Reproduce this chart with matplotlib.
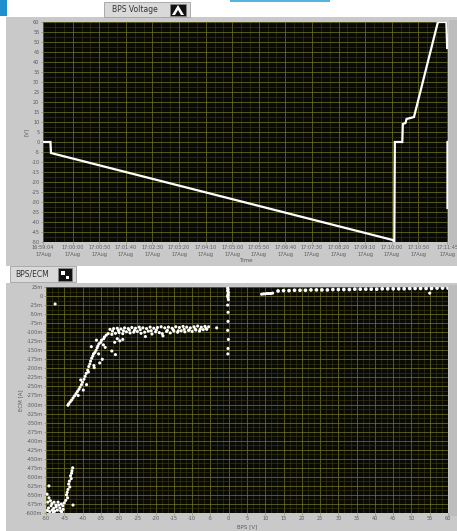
import numpy as np
import matplotlib
matplotlib.use("Agg")
import matplotlib.pyplot as plt
from matplotlib.patches import Rectangle, Polygon
from matplotlib.ticker import MultipleLocator, FixedLocator

W, H = 457, 531

# =========================
# BPS voltage vs time (seconds since 16:59:04)
# =========================
t_s = [0, 14, 15, 658, 660, 661, 662, 676, 677, 682, 684, 698, 743, 744, 759, 760.4, np.nan, 761, 761]
volt = [0, 0, -5.5, -49, -49.5, -49.5, 0, 0, 9, 9.5, 11.5, 12.5, 60, 60, 60, 47, np.nan, 0, -33]

time_tick_pos = [0, 56, 106, 156, 206, 256, 306, 356, 406, 456, 506, 556, 606, 656, 706, 761]
time_tick_lab = ["16:59:04", "17:00:00", "17:00:50", "17:01:40", "17:02:30", "17:03:20",
                 "17:04:10", "17:05:00", "17:05:50", "17:06:40", "17:07:30", "17:08:20",
                 "17:09:10", "17:10:00", "17:10:50", "17:11:45"]
volt_ticks = [60, 55, 50, 45, 40, 35, 30, 25, 20, 15, 10, 5, 0,
              -5, -10, -15, -20, -25, -30, -35, -40, -45, -50]

# =========================
# ECM current vs BPS voltage (V, mA)
# =========================
top_v = [13.5, 15, 16.5, 18, 19.5, 21, 22.5, 24, 25.5, 27, 28.5, 30, 31.5, 33, 34.5, 36,
         37.5, 39, 40.5, 42, 43.5, 45, 46.5, 48, 49.5, 51, 52.5, 54, 55.5, 57, 58.5, 60]
top_i = [14, 15, 15, 16, 16, 16, 17, 17, 17, 17, 18, 18, 18, 18, 19, 19,
         19, 19, 19, 20, 20, 20, 20, 20, 21, 21, 21, 21, 21, 22, 22, 22]

streak_v = [9.0, 9.5, 10.0, 10.5, 11.0, 11.5, 12.0, 55.0]
streak_i = [5, 6, 6, 7, 7, 7, 8, 8]

zero_v = [-0.3, -0.2, -0.3, -0.1, -0.2, -0.3, -0.2, -0.1, -0.3, -0.2, -0.2, -0.3, -0.1, -0.2, -0.25, -0.15]
zero_i = [22, 18, 14, 10, 5, 0, -4, -10, -25, -45, -70, -95, -120, -145, -160, 2]

band_v_a = [-32.5, -31.5, -30.5, -29.5, -28.5, -27.5, -26.5, -25.5, -24.5, -23.5, -22.5, -21.5, -20.5, -19.5,
            -18.5, -17.5, -16.5, -15.5, -14.5, -13.5, -12.5, -11.5, -10.5, -9.5, -8.5, -7.5, -6.5, -5.5]
band_i_a = [-92, -90, -89, -91, -88, -90, -87, -89, -86, -88, -90, -86, -89, -87,
            -85, -88, -86, -89, -85, -87, -84, -86, -88, -85, -83, -86, -84, -85]
band_v_b = [-32, -31, -30, -29, -28, -27, -26, -25, -24, -23, -22, -21, -20, -19,
            -18, -17, -16, -15, -14, -13, -12, -11, -10, -9, -8, -7, -6]
band_i_b = [-106, -103, -101, -104, -99, -102, -100, -98, -103, -100, -97, -105, -99, -101,
            -110, -98, -102, -97, -100, -96, -99, -95, -98, -94, -97, -93, -92]
band_v_c = [-31.8, -30.2, -28.8, -27.2, -25.8, -24.2, -22.8, -21.2, -19.8, -18.2, -16.8, -15.2,
            -13.8, -12.2, -10.8, -9.2, -7.8, -6.2, -3.3, -47.5]
band_i_c = [-97, -95, -96, -94, -95, -93, -112, -96, -94, -104, -95, -93,
            -96, -92, -94, -91, -92, -90, -88, -22]

leg_v = [-33.0, -33.5, -34.0, -34.2, -34.8, -35.0, -35.5, -35.8, -36.0, -36.3, -36.6, -37.0, -37.2,
         -37.5, -37.8, -38.0, -38.3, -38.6, -39.0, -39.3, -39.6, -40.0, -40.3, -40.7, -41.0, -41.4,
         -41.8, -42.2, -42.6, -43.0, -43.4, -43.8, -44.0,
         -30.5, -29.8, -31.2, -32.0, -31.0, -29.0, -33.8, -34.6, -35.3, -36.2, -37.6, -38.4, -36.8,
         -39.8, -40.5, -41.2, -35.6, -36.9, -34.3, -38.9]
leg_i = [-104, -108, -113, -118, -122, -128, -132, -138, -143, -150, -156, -160, -166,
         -172, -180, -188, -195, -205, -214, -222, -230, -238, -245, -252, -258, -264,
         -270, -276, -282, -288, -293, -298, -302,
         -118, -124, -128, -152, -162, -120, -142, -175, -185, -122, -140, -210, -198,
         -260, -232, -275, -160, -192, -135, -245]

low_v = [-42.7, -42.9, -43.0, -43.3, -43.1, -43.6, -43.8, -43.5, -44.0, -44.2, -44.4, -44.1, -44.6,
         -45.0, -45.4, -45.8, -46.2, -46.5, -46.9, -47.2, -47.6, -47.9, -48.3, -48.6, -49.0, -49.3,
         -49.6, -49.5, -49.2, -48.8, -48.4, -47.8, -47.3, -46.7, -46.0, -45.3, -49.7, -48.0, -45.7,
         -42.6, -49.2]
low_i = [-475, -483, -490, -497, -505, -512, -520, -528, -535, -543, -550, -558, -565,
         -572, -580, -575, -586, -578, -592, -583, -595, -587, -592, -580, -596, -586,
         -593, -570, -558, -566, -574, -570, -578, -570, -594, -590, -548, -598, -597,
         -578, -525]

ecm_ticks = [25, 0, -25, -50, -75, -100, -125, -150, -175, -200, -225, -250, -275, -300,
             -325, -350, -375, -400, -425, -450, -475, -500, -525, -550, -575, -600]
bps_ticks = [-50, -45, -40, -35, -30, -25, -20, -15, -10, -5, 0, 5, 10, 15, 20, 25,
             30, 35, 40, 45, 50, 55, 60]

# =========================
# Figure / panels
# =========================
BG = "#0a0a05"
MAJ = "#77772a"
MIN = "#3e3e14"
FRAME = "#c9c9c9"
TXT = "#5a5a5a"

fig = plt.figure(figsize=(W / 100, H / 100), dpi=100)
fig.patch.set_facecolor("white")


def px_rect(x0, y0, x1, y1, z=-1, **kw):
    # pixel coords (top-left origin) -> figure fraction
    r = Rectangle((x0 / W, 1 - y1 / H), (x1 - x0) / W, (y1 - y0) / H,
                  transform=fig.transFigure, zorder=z, **kw)
    fig.patches.append(r)
    return r


def px_ax(x0, y0, x1, y1):
    return fig.add_axes([x0 / W, 1 - y1 / H, (x1 - x0) / W, (y1 - y0) / H])


# decorations of the slide
px_rect(0, 0, 7, 16, facecolor="#1f8fd0", edgecolor="none")
px_rect(230, 0, 330, 2, facecolor="#55b5e0", edgecolor="none")

# grey panel frames
px_rect(6, 17, 457, 266, facecolor=FRAME, edgecolor="none")
px_rect(6, 283, 457, 531, facecolor=FRAME, edgecolor="none")
px_rect(449, 20, 457, 245, facecolor="#bdbdbd", edgecolor="none")
px_rect(449, 285, 457, 516, facecolor="#bdbdbd", edgecolor="none")

# tabs
px_rect(104, 2, 190, 17, z=1, facecolor="#d9d9d9", edgecolor="#a0a0a0", linewidth=0.6)
fig.text(112 / W, 1 - 10 / H, "BPS Voltage", fontsize=5.5, color="#333333", va="center", ha="left")
px_rect(170, 4, 186, 16, z=1, facecolor="#111111", edgecolor="#888888", linewidth=0.5)
fig.patches.append(Polygon([[172 / W, 1 - 15 / H], [178 / W, 1 - 5 / H], [184 / W, 1 - 15 / H],
                            [181 / W, 1 - 15 / H], [178 / W, 1 - 10 / H], [175 / W, 1 - 15 / H]],
                           closed=True, transform=fig.transFigure, facecolor="white",
                           edgecolor="none", zorder=2))

px_rect(10, 266, 76, 282, z=1, facecolor="#d9d9d9", edgecolor="#a0a0a0", linewidth=0.6)
fig.text(15 / W, 1 - 274 / H, "BPS/ECM", fontsize=5.5, color="#333333", va="center", ha="left")
px_rect(58, 268, 72, 281, z=1, facecolor="#111111", edgecolor="#888888", linewidth=0.5)
px_rect(61, 271, 65, 275, z=2, facecolor="white", edgecolor="none")
px_rect(66, 276, 69, 279, z=2, facecolor="white", edgecolor="none")


def style(ax):
    ax.set_facecolor(BG)
    for s in ax.spines.values():
        s.set_visible(False)
    ax.tick_params(which="major", length=1.5, width=0.4, color="#777777",
                   labelsize=3.6, labelcolor=TXT, pad=1)
    ax.tick_params(which="minor", length=0)
    ax.grid(which="major", color=MAJ, linewidth=0.5)
    ax.grid(which="minor", color=MIN, linewidth=0.4)
    ax.set_axisbelow(True)


# =========================
# Top: BPS Voltage
# =========================
ax1 = px_ax(43, 22, 448, 242)
style(ax1)
ax1.plot(t_s, volt, color="white", linewidth=1.6, solid_joinstyle="miter")
ax1.set_xlim(0, 762)
ax1.set_ylim(-50, 60)
ax1.set_xticks(time_tick_pos)
ax1.set_xticklabels([l + "\n17Aug" for l in time_tick_lab], linespacing=1.4)
ax1.xaxis.set_minor_locator(FixedLocator([p + d for p in [6] + time_tick_pos[1:-1] for d in (16.7, 33.3)]))
ax1.set_yticks(volt_ticks)
ax1.set_yticklabels([str(v) for v in volt_ticks])
ax1.yaxis.set_minor_locator(MultipleLocator(2.5))
ax1.set_ylabel("[V]", fontsize=4, color=TXT, labelpad=2)
ax1.set_xlabel("Time", fontsize=4, color=TXT, labelpad=1)

# =========================
# Bottom: BPS/ECM
# =========================
ax2 = px_ax(46, 287, 448, 513)
style(ax2)
dot = dict(s=5, color="white", edgecolors="none")
ax2.scatter(top_v, top_i, s=7, color="white", edgecolors="none")
ax2.scatter(streak_v, streak_i, **dot)
ax2.scatter(zero_v, zero_i, **dot)
ax2.scatter(band_v_a, band_i_a, **dot)
ax2.scatter(band_v_b, band_i_b, **dot)
ax2.scatter(band_v_c, band_i_c, **dot)
ax2.scatter(leg_v, leg_i, **dot)
ax2.scatter(low_v, low_i, **dot)
ax2.set_xlim(-50, 60)
ax2.set_ylim(-600, 25)
ax2.set_xticks(bps_ticks)
ax2.set_xticklabels([str(v) for v in bps_ticks])
ax2.xaxis.set_minor_locator(MultipleLocator(5 / 3))
ax2.set_yticks(ecm_ticks)
ax2.set_yticklabels([("%dm" % v) if v != 0 else "0" for v in ecm_ticks])
ax2.yaxis.set_minor_locator(MultipleLocator(12.5))
ax2.set_ylabel("ECM [A]", fontsize=4, color=TXT, labelpad=2)
ax2.set_xlabel("BPS [V]", fontsize=4, color=TXT, labelpad=2)

fig.savefig("out.png", dpi=100, facecolor=fig.get_facecolor())
